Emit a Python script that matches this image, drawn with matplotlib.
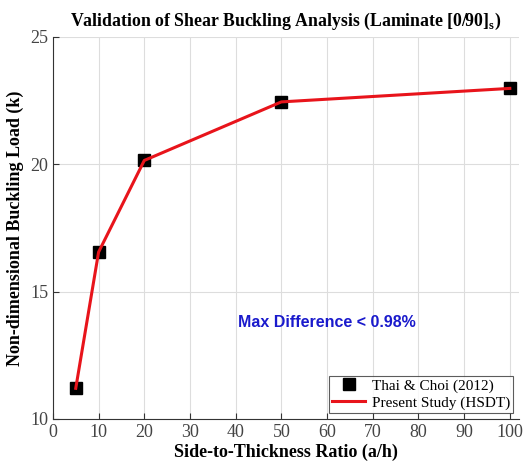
import matplotlib.pyplot as plt

ratio = [5, 10, 20, 50, 100]
k_ref = [11.2, 16.55, 20.15, 22.45, 22.98]
k_present = [11.2, 16.55, 20.15, 22.45, 22.98]

plt.rcParams['font.family'] = ['Liberation Serif', 'DejaVu Serif']

fig = plt.figure(figsize=(5.29, 4.68), dpi=100)
ax = fig.add_axes([0.100, 0.105, 0.881, 0.816])

ax.plot(ratio, k_ref, 's', color='black', markersize=9, label='Thai & Choi (2012)', zorder=3)
ax.plot(ratio, k_present, '-', color='#e8141b', linewidth=2.2, label='Present Study (HSDT)', zorder=4)

ax.set_xlim(0, 102)
ax.set_ylim(10, 25)
ax.set_xticks(range(0, 101, 10))
ax.set_yticks([10, 15, 20, 25])
ax.grid(True, color='#dddddd', linewidth=0.8)
ax.set_axisbelow(True)
ax.spines['top'].set_visible(False)
ax.spines['right'].set_visible(False)
for s in ['left', 'bottom']:
    ax.spines[s].set_color('#333333')
ax.tick_params(direction='in', length=4, labelsize=13, colors='#333333', labelcolor='#444444')

ax.set_title('Validation of Shear Buckling Analysis (Laminate [0/90]$_\\mathregular{s}$)',
             fontsize=12.8, fontweight='bold', pad=8)
ax.set_xlabel('Side-to-Thickness Ratio (a/h)', fontsize=13, fontweight='bold', labelpad=2)
ax.set_ylabel('Non-dimensional Buckling Load (k)', fontsize=13, fontweight='bold', labelpad=4)

ax.text(60, 13.8, 'Max Difference < 0.98%', color='#1a1acc', fontsize=11.5,
        fontweight='bold', family='Liberation Sans', ha='center', va='center')

leg = ax.legend(loc='lower right', fontsize=11, frameon=True, fancybox=False,
                edgecolor='#333333', borderpad=0.2, handlelength=2.2,
                handletextpad=0.4, borderaxespad=0.4, labelspacing=0.2)
leg.get_frame().set_linewidth(0.8)

fig.savefig('out.png', dpi=100)
